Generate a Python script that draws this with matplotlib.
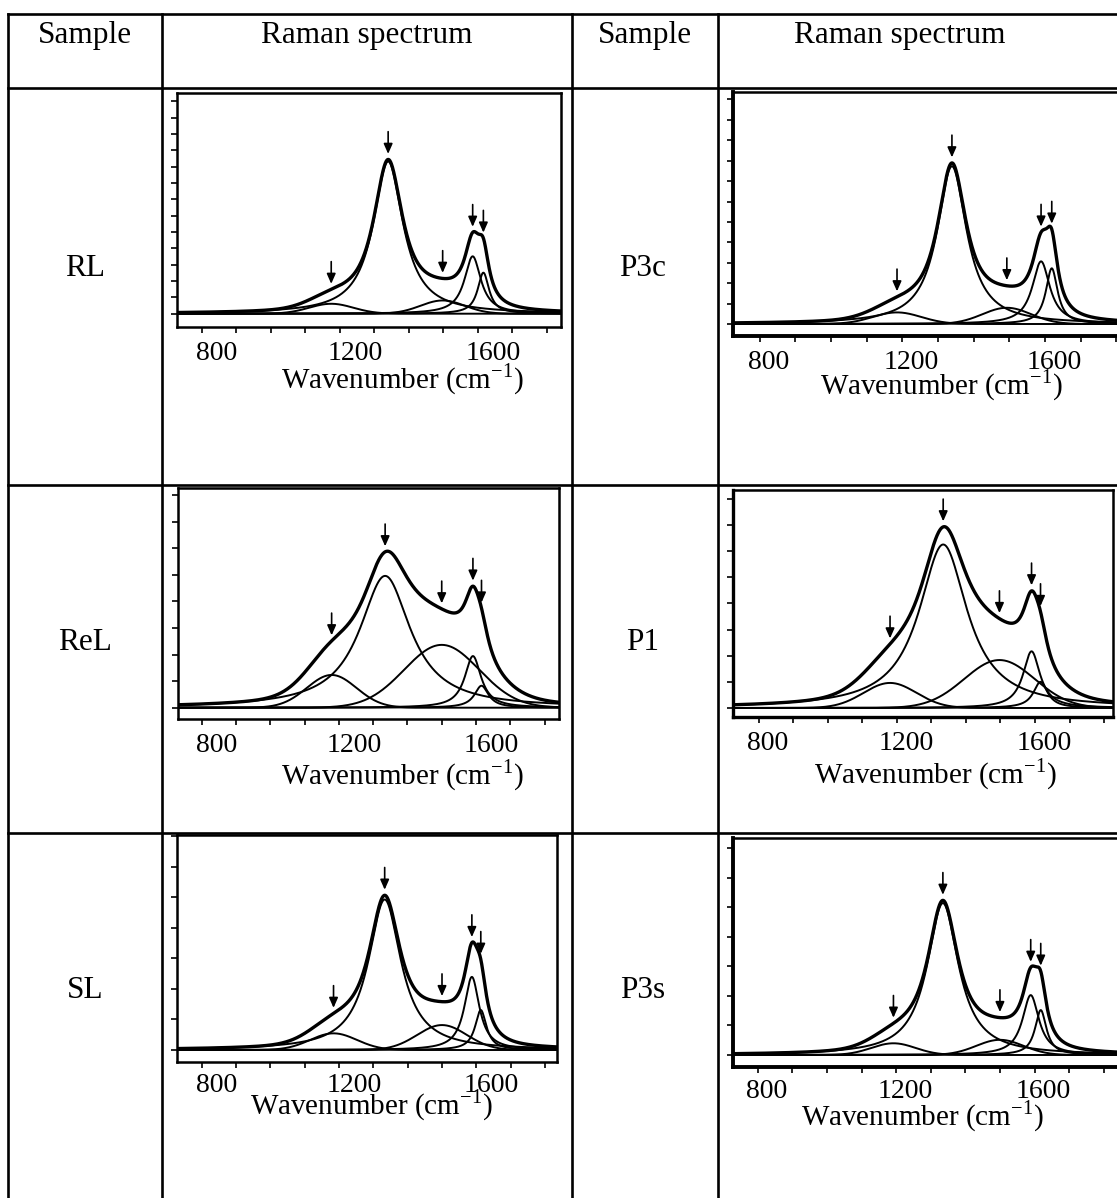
import numpy as np
import matplotlib.pyplot as plt
from matplotlib.transforms import ScaledTranslation

plt.rcParams['font.family'] = ['Liberation Serif', 'DejaVu Serif']
plt.rcParams['mathtext.fontset'] = 'custom'
plt.rcParams['mathtext.rm'] = 'Liberation Serif'

W, H = 1117, 1198

header = ['Sample', 'Raman spectrum', 'Sample', 'Raman spectrum']
samples = ['RL', 'P3c', 'ReL', 'P1', 'SL', 'P3s']

# fitted bands: D4, D1, D3, G, D2
band_shape = ['G', 'L', 'G', 'L', 'L']

# centre (cm-1), height (% of frame above baseline), FWHM (cm-1)
rl_center = [1175, 1340, 1498, 1585, 1616]
rl_height = [4.5, 69, 6, 26, 18.6]
rl_fwhm = [150, 105, 150, 58, 40]

p3c_center = [1185, 1339, 1493, 1589, 1619]
p3c_height = [5, 68, 7, 27, 24]
p3c_fwhm = [160, 100, 160, 60, 40]

rel_center = [1179, 1335, 1500, 1591, 1616]
rel_height = [14.9, 60, 28.6, 23.5, 10]
rel_fwhm = [170, 180, 257, 58, 50]

p1_center = [1180, 1334, 1497, 1590, 1616]
p1_height = [11.5, 75, 22, 26, 12]
p1_fwhm = [180, 170, 240, 60, 50]

sl_center = [1184, 1333, 1500, 1587, 1613]
sl_height = [7.75, 70, 11.6, 34, 18.6]
sl_fwhm = [160, 115, 170, 53, 40]

p3s_center = [1192, 1335, 1500, 1589, 1618]
p3s_height = [5.4, 70, 7, 27.6, 20.7]
p3s_fwhm = [150, 110, 160, 58, 40]

centers = [rl_center, p3c_center, rel_center, p1_center, sl_center, p3s_center]
heights = [rl_height, p3c_height, rel_height, p1_height, sl_height, p3s_height]
fwhms = [rl_fwhm, p3c_fwhm, rel_fwhm, p1_fwhm, sl_fwhm, p3s_fwhm]

# layout in pixels: frame left, top, right, bottom, baseline
frames = [(177, 93, 561, 327, 313.7),
          (733, 92, 1122, 336, 324),
          (178, 488, 559, 719, 707.7),
          (733, 490, 1113, 717, 708),
          (177, 835, 557, 1062, 1050),
          (733, 838, 1122, 1067, 1055)]
xlims = [(728, 1841), (725, 1816), (731, 1842), (725, 1826), (728, 1835), (728, 1853)]
ystep = [7.4, 8.8, 12.1, 12, 14.2, 13.6]
label_dx = [15, 9, 15, 9, 15, 9]
label_pad = [6, 6, 6, 6, 4, 5]
spine_w = [1.8, 2.8, 1.8, 2.4, 1.8, 2.8]
name_pos = [(85, 268), (643, 268), (85, 642), (643, 642), (85, 990), (643, 990)]
xlabel_pos = [(402, 379), (941, 385), (402, 775), (935, 774), (371, 1105), (922, 1116)]


def band(x, c, h, w, shape):
    if shape == 'L':
        return h / (1 + ((x - c) / (w / 2)) ** 2)
    s = w / 2.3548
    return h * np.exp(-0.5 * ((x - c) / s) ** 2)


fig = plt.figure(figsize=(W / 100, H / 100), dpi=100)
bg = fig.add_axes([0, 0, 1, 1])
bg.set_xlim(0, W)
bg.set_ylim(H, 0)
bg.axis('off')

# table grid
lw_tab = 1.9
for x in [8, 162, 572, 718]:
    bg.plot([x, x], [14, H], color='black', lw=lw_tab, solid_capstyle='projecting')
for y in [14, 88, 485, 833]:
    bg.plot([8, W], [y, y], color='black', lw=lw_tab, solid_capstyle='projecting')

for txt, xc in zip(header, [85, 367, 645, 900]):
    bg.text(xc, 43, txt, ha='center', va='baseline', fontsize=22.5)

for name, (xn, yn) in zip(samples, name_pos):
    bg.text(xn, yn, name, ha='center', va='center', fontsize=22.5)

for i in range(6):
    l, t, r, b, base = frames[i]
    ax = fig.add_axes([l / W, 1 - b / H, (r - l) / W, (b - t) / H])
    y0 = -(b - base) / (base - t) * 100
    ax.set_xlim(*xlims[i])
    ax.set_ylim(y0, 100)

    x = np.linspace(xlims[i][0], xlims[i][1], 1500)
    total = np.zeros_like(x)
    for c, h, w, s in zip(centers[i], heights[i], fwhms[i], band_shape):
        comp = band(x, c, h, w, s)
        total += comp
        ax.plot(x, comp, color='black', lw=1.4)
    ax.plot(x, total, color='black', lw=2.4)

    # arrows above each fitted band position
    for c in centers[i]:
        yt = sum(band(c, cc, hh, ww, ss) for cc, hh, ww, ss in
                 zip(centers[i], heights[i], fwhms[i], band_shape))
        ax.annotate('', xy=(c, yt), xytext=(0, 20), textcoords='offset points',
                    arrowprops=dict(arrowstyle='-|>,head_length=0.5,head_width=0.22',
                                    color='black', lw=1.2, shrinkA=0, shrinkB=4,
                                    mutation_scale=12))

    ax.set_xticks(np.arange(800, 1801, 100))
    ax.set_xticklabels(['800', '', '', '', '1200', '', '', '', '1600', '', ''])
    ax.set_yticks(np.arange(0, 100, ystep[i]))
    ax.set_yticklabels([])
    ax.tick_params(direction='out', length=4, width=1.2, labelsize=20,
                   pad=label_pad[i], top=False, right=False)
    for sp in ax.spines.values():
        sp.set_linewidth(1.8)
    ax.spines['left'].set_linewidth(spine_w[i])
    ax.spines['bottom'].set_linewidth(spine_w[i])
    off = ScaledTranslation(label_dx[i] / 100, 0, fig.dpi_scale_trans)
    for lab in ax.get_xticklabels():
        lab.set_transform(lab.get_transform() + off)

    xl, yl = xlabel_pos[i]
    bg.text(xl, yl, r'Wavenumber (cm$^{\mathregular{-1}}$)', ha='center',
            va='center', fontsize=21)

fig.savefig('out.png', dpi=100)
